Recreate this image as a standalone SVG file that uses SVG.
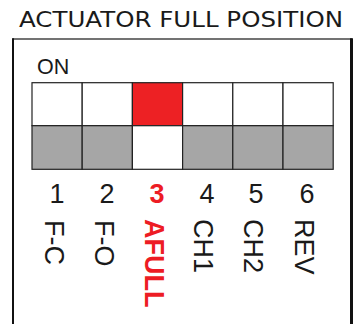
<svg xmlns="http://www.w3.org/2000/svg" width="355" height="324" viewBox="0 0 355 324">
<style>
text{font-family:"Liberation Sans","Noto Sans",Arial,sans-serif;fill:#1a1a1a}
.title{font-family:"DejaVu Sans","Liberation Sans",sans-serif;font-size:20.5px}
.num{font-size:27px;text-anchor:middle}
.lab{font-size:27px}
.red{fill:#ED1C24}
.bold{font-weight:bold}
.cell{stroke:#222;stroke-width:1.2}
.w{fill:#fff}
.g{fill:#A6A6A6}
.r{fill:#ED2124}
</style>
<rect width="355" height="324" fill="#fff"/>
<text class="title" x="19" y="27" textLength="324" lengthAdjust="spacingAndGlyphs">ACTUATOR FULL POSITION</text>
<g id="frame">
<line x1="12.5" y1="39" x2="352" y2="39" stroke="#444" stroke-width="1.6"/>
<line x1="13" y1="38.3" x2="13" y2="324" stroke="#111" stroke-width="2"/>
<line x1="351.5" y1="38.3" x2="351.5" y2="324" stroke="#111" stroke-width="3"/>
</g>
<text x="37" y="74" style="font-size:21.5px">ON</text>
<g id="switch1"><rect class="cell w" x="32" y="82.7" width="50.2" height="43"/><rect class="cell g" x="32" y="125.7" width="50.2" height="43.6"/>
<text class="num" x="57" y="203">1</text><text class="lab" transform="translate(45,220) rotate(90)">F-C</text></g>
<g id="switch2"><rect class="cell w" x="82.2" y="82.7" width="50.2" height="43"/><rect class="cell g" x="82.2" y="125.7" width="50.2" height="43.6"/>
<text class="num" x="107" y="203">2</text><text class="lab" transform="translate(95,220) rotate(90)">F-O</text></g>
<g id="switch3"><rect class="cell r" x="132.4" y="82.7" width="50.2" height="43"/><rect class="cell w" x="132.4" y="125.7" width="50.2" height="43.6"/>
<text class="num red bold" x="157" y="203">3</text><text class="lab red bold" transform="translate(145,219) rotate(90)">AFULL</text></g>
<g id="switch4"><rect class="cell w" x="182.6" y="82.7" width="50.2" height="43"/><rect class="cell g" x="182.6" y="125.7" width="50.2" height="43.6"/>
<text class="num" x="207" y="203">4</text><text class="lab" transform="translate(194,219) rotate(90)">CH1</text></g>
<g id="switch5"><rect class="cell w" x="232.8" y="82.7" width="50.2" height="43"/><rect class="cell g" x="232.8" y="125.7" width="50.2" height="43.6"/>
<text class="num" x="256" y="203">5</text><text class="lab" transform="translate(244,219) rotate(90)">CH2</text></g>
<g id="switch6"><rect class="cell w" x="283" y="82.7" width="50.2" height="43"/><rect class="cell g" x="283" y="125.7" width="50.2" height="43.6"/>
<text class="num" x="307" y="203">6</text><text class="lab" transform="translate(295,219) rotate(90)">REV</text></g>
<g id="connectors"/>
</svg>
